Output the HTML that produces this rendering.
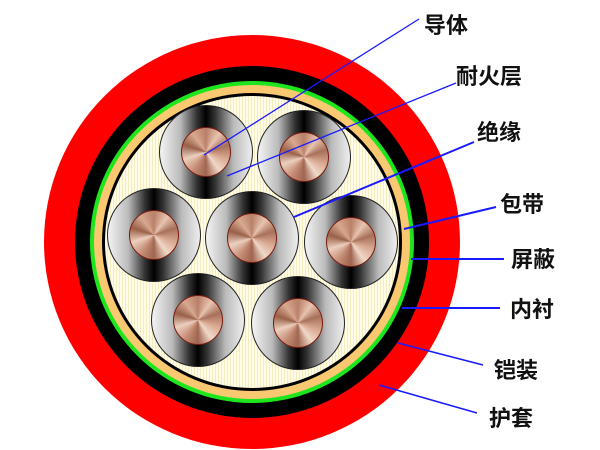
<!DOCTYPE html>
<html><head><meta charset="utf-8"><style>
html,body{margin:0;padding:0;background:#fff;}
#c{position:relative;width:600px;height:450px;overflow:hidden;background:#fff;}
.ring{position:absolute;border-radius:50%;}
.core{position:absolute;width:94px;height:94px;border-radius:50%;box-sizing:border-box;border:1.5px solid #222;
background:linear-gradient(90deg,#f4f4f4 0%,#bbb 22%,#333 40%,#000 50%,#333 60%,#bbb 80%,#eee 100%);}
.cu{position:absolute;left:21px;top:21px;width:50px;height:50px;border-radius:50%;box-sizing:border-box;border:1.5px solid #7a1a10;
background:conic-gradient(from 0deg,#b98068,#e8c4b0,#a8705a,#d9a890,#f0d8c8,#a06450,#c89078,#ecd0c0,#9a6048,#d8a890,#b98068);}
.t{position:absolute;font-family:"Liberation Sans","Noto Sans CJK SC",sans-serif;font-size:22px;font-weight:bold;color:#111;line-height:1;}
</style></head><body><div id="c">
<div class="ring" style="left:44px;top:35px;width:416px;height:414px;background:#f00;"></div>
<div class="ring" style="left:75px;top:66px;width:354px;height:352px;background:#000;"></div>
<div class="ring" style="left:90px;top:81px;width:324px;height:322px;background:#1ee61e;"></div>
<div class="ring" style="left:94px;top:85px;width:316px;height:314px;background:#f9c870;"></div>
<div class="ring" style="left:102px;top:93px;width:300px;height:298px;background:#000;"></div>
<div class="ring" style="left:105px;top:96px;width:294px;height:292px;background:repeating-linear-gradient(90deg,#fffbe6 0,#fffbe6 2px,#f3eec0 2px,#f3eec0 3px);"></div>
<div class="core" style="left:159px;top:105px;"><div class="cu"></div></div>
<div class="core" style="left:257px;top:110px;"><div class="cu"></div></div>
<div class="core" style="left:107px;top:188px;"><div class="cu"></div></div>
<div class="core" style="left:205px;top:191px;"><div class="cu"></div></div>
<div class="core" style="left:304px;top:195px;"><div class="cu"></div></div>
<div class="core" style="left:151px;top:273px;"><div class="cu"></div></div>
<div class="core" style="left:251px;top:276px;"><div class="cu"></div></div>
<svg width="600" height="450" style="position:absolute;left:0;top:0" stroke="#1a1aff" stroke-width="1.3">
<line x1="419" y1="19" x2="204" y2="155"/>
<line x1="456" y1="83" x2="227" y2="176"/>
<line x1="474" y1="142" x2="294" y2="217" stroke-width="2"/>
<line x1="496" y1="207" x2="404" y2="229" stroke-width="2"/>
<line x1="504" y1="259" x2="411" y2="259" stroke-width="2"/>
<line x1="500" y1="308" x2="402" y2="308" stroke-width="2"/>
<line x1="483" y1="365" x2="398" y2="343" stroke-width="1.6"/>
<line x1="477" y1="413" x2="379" y2="385" stroke-width="1.6"/>
</svg>
<div class="t" style="left:424px;top:15px;">导体</div>
<div class="t" style="left:456px;top:66px;">耐火层</div>
<div class="t" style="left:477px;top:122px;">绝缘</div>
<div class="t" style="left:500px;top:194px;">包带</div>
<div class="t" style="left:511px;top:249px;">屏蔽</div>
<div class="t" style="left:510px;top:299px;">内衬</div>
<div class="t" style="left:494px;top:360px;">铠装</div>
<div class="t" style="left:489px;top:408px;">护套</div>
</div></body></html>
